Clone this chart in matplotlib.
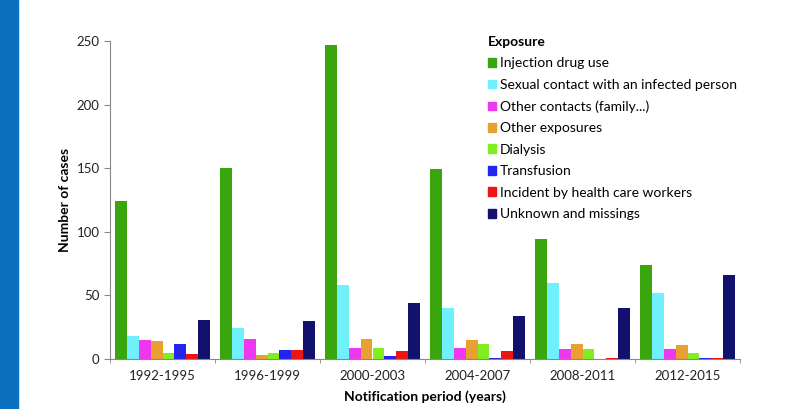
import matplotlib
matplotlib.use("Agg")
import matplotlib.pyplot as plt
import numpy as np
from matplotlib.patches import Rectangle, Patch

periods = ["1992-1995", "1996-1999", "2000-2003", "2004-2007", "2008-2011", "2012-2015"]
series_names = ["Injection drug use", "Sexual contact with an infected person",
                "Other contacts (family...)", "Other exposures", "Dialysis",
                "Transfusion", "Incident by health care workers", "Unknown and missings"]
injection = [124, 150, 247, 149, 94, 74]
sexual = [18, 24, 58, 40, 60, 52]
other_contacts = [15, 16, 9, 9, 8, 8]
other_exposures = [14, 3, 16, 15, 12, 11]
dialysis = [5, 5, 9, 12, 8, 5]
transfusion = [12, 7, 2, 1, 0, 1]
incident = [4, 7, 6, 6, 1, 1]
unknown = [31, 30, 44, 34, 40, 66]
colors = ["#3aa60e", "#70f0fc", "#ee38ee", "#e8a032", "#80ee20", "#2424f0", "#ee1414", "#12126e"]

series = [injection, sexual, other_contacts, other_exposures, dialysis, transfusion, incident, unknown]

plt.rcParams['font.family'] = ['Lato', 'DejaVu Sans']
fig = plt.figure(figsize=(7.95, 4.09), dpi=100)
fig.patches.append(Rectangle((0, 0), 18/795, 1, transform=fig.transFigure, color="#0b6fc0", zorder=0))
ax = fig.add_axes([110/795, 1-359/409, 630/795, 318/409])

x = np.arange(len(periods))
w = 0.114
for i, (vals, c) in enumerate(zip(series, colors)):
    ax.bar(x - 4*w + w/2 + i*w, vals, width=w, color=c, label=series_names[i])

ax.set_xlim(-0.5, len(periods) - 0.5)
ax.set_ylim(0, 250)
ax.set_yticks([0, 50, 100, 150, 200, 250])
ax.set_xticks(x)
ax.set_xticklabels(periods)
ax.set_xticks(np.arange(-0.5, len(periods), 1), minor=True)
ax.tick_params(axis='x', which='major', length=0, pad=8, labelsize=9.5, colors='#222222')
ax.tick_params(axis='x', which='minor', length=3, color='#888888', direction='out')
ax.tick_params(axis='y', length=4, color='#888888', labelsize=9.5, labelcolor='#222222')
for s in ['top', 'right']:
    ax.spines[s].set_visible(False)
for s in ['left', 'bottom']:
    ax.spines[s].set_color('#888888')
ax.set_ylabel("Number of cases", fontweight='bold', fontsize=10, labelpad=4)
ax.set_xlabel("Notification period (years)", fontweight='bold', fontsize=10, labelpad=6)

handles = [Patch(color=c) for c in colors]
leg = ax.legend(handles, series_names, title="Exposure", loc='upper left',
                bbox_to_anchor=(365/630, 1.055), frameon=False, fontsize=10,
                handlelength=0.6, handleheight=0.6, handletextpad=0.3,
                labelspacing=0.68, alignment='left')
leg.get_title().set_fontweight('bold')
leg.get_title().set_fontsize(10)

fig.savefig("out.png", dpi=100)
